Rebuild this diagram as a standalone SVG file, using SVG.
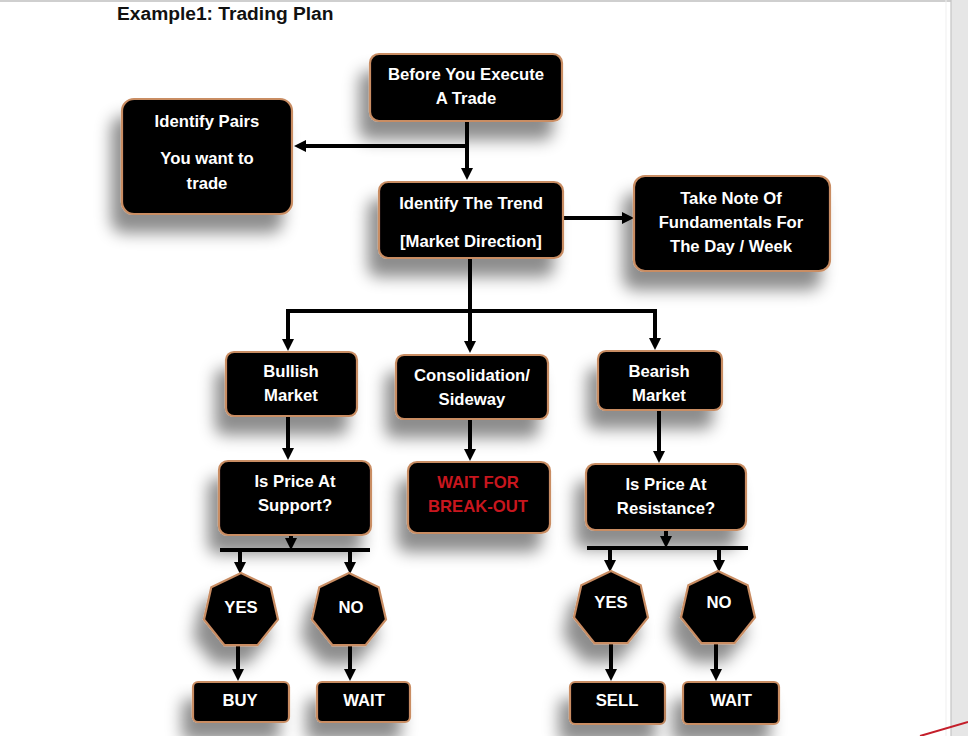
<svg xmlns="http://www.w3.org/2000/svg" width="968" height="736" viewBox="0 0 968 736">
<style>
.bx{fill:#050303;stroke:#c98d63;stroke-width:2.2}
.t{font-family:"Liberation Sans",Arial,sans-serif;font-weight:bold;font-size:16.7px;fill:#fff;text-anchor:middle}
.r{fill:#c8161e}
.c{stroke:#000;stroke-width:4;fill:none}
</style>
<defs>
<filter id="sh" x="-40%" y="-40%" width="180%" height="210%">
<feGaussianBlur in="SourceAlpha" stdDeviation="8"/>
<feOffset dx="-10" dy="18" result="b"/>
<feFlood flood-color="#000" flood-opacity="0.45"/>
<feComposite in2="b" operator="in"/>
<feMerge><feMergeNode/><feMergeNode in="SourceGraphic"/></feMerge>
</filter>
<marker id="a" markerUnits="userSpaceOnUse" markerWidth="13" markerHeight="13" refX="2" refY="6" orient="auto">
<path d="M0,0 L12,6 L0,12 z" fill="#000"/>
</marker>
</defs>
<rect width="968" height="736" fill="#fff"/>
<rect x="0" y="0" width="968" height="2" fill="#cfcfcf"/>
<rect x="951" y="0" width="17" height="736" fill="#e6e6e6"/>
<line x1="951" y1="0" x2="951" y2="736" stroke="#c4c4c4" stroke-width="1.2"/>
<line x1="946" y1="0" x2="946" y2="736" stroke="#efefef" stroke-width="1"/>
<line x1="920" y1="736" x2="968" y2="722" stroke="#c41e2a" stroke-width="2"/>
<text x="117" y="20" font-family="'Liberation Sans',Arial,sans-serif" font-weight="bold" font-size="19.2" fill="#111">Example1: Trading Plan</text>

<g id="connectors">
<line class="c" x1="467" y1="121" x2="467" y2="170" marker-end="url(#a)"/>
<line class="c" x1="467" y1="146" x2="304" y2="146" marker-end="url(#a)"/>
<line class="c" x1="563" y1="218" x2="624" y2="218" marker-end="url(#a)"/>
<line class="c" x1="470" y1="258" x2="470" y2="343" marker-end="url(#a)"/>
<line class="c" x1="286" y1="311" x2="657" y2="311"/>
<line class="c" x1="288" y1="309" x2="288" y2="341" marker-end="url(#a)"/>
<line class="c" x1="655" y1="309" x2="655" y2="340" marker-end="url(#a)"/>
<line class="c" x1="288" y1="416" x2="288" y2="450" marker-end="url(#a)"/>
<line class="c" x1="470" y1="419" x2="470" y2="451" marker-end="url(#a)"/>
<line class="c" x1="659" y1="410" x2="659" y2="453" marker-end="url(#a)"/>
<line class="c" x1="291" y1="535" x2="291" y2="540" marker-end="url(#a)"/>
<line class="c" x1="220" y1="550" x2="370" y2="550"/>
<line class="c" x1="240" y1="550" x2="240" y2="564" marker-end="url(#a)"/>
<line class="c" x1="350" y1="550" x2="350" y2="564" marker-end="url(#a)"/>
<line class="c" x1="238" y1="645" x2="238" y2="671" marker-end="url(#a)"/>
<line class="c" x1="350" y1="645" x2="350" y2="671" marker-end="url(#a)"/>
<line class="c" x1="666" y1="530" x2="666" y2="538" marker-end="url(#a)"/>
<line class="c" x1="587" y1="548" x2="748" y2="548"/>
<line class="c" x1="610" y1="548" x2="610" y2="562" marker-end="url(#a)"/>
<line class="c" x1="719" y1="548" x2="719" y2="562" marker-end="url(#a)"/>
<line class="c" x1="611" y1="642" x2="611" y2="671" marker-end="url(#a)"/>
<line class="c" x1="716" y1="642" x2="716" y2="671" marker-end="url(#a)"/>
</g>

<g id="n-before">
<rect class="bx" x="370" y="54" width="192" height="67" rx="9" filter="url(#sh)"/>
<text class="t" x="466" y="80">Before You Execute</text>
<text class="t" x="466" y="104">A Trade</text>
</g>
<g id="n-pairs">
<rect class="bx" x="122" y="99" width="170" height="115" rx="12" filter="url(#sh)"/>
<text class="t" x="207" y="127">Identify Pairs</text>
<text class="t" x="207" y="164">You want to</text>
<text class="t" x="207" y="189">trade</text>
</g>
<g id="n-trend">
<rect class="bx" x="379" y="182" width="184" height="76" rx="9" filter="url(#sh)"/>
<text class="t" x="471" y="209">Identify The Trend</text>
<text class="t" x="471" y="247">[Market Direction]</text>
</g>
<g id="n-fund">
<rect class="bx" x="634" y="176" width="196" height="95" rx="11" filter="url(#sh)"/>
<text class="t" x="731" y="204">Take Note Of</text>
<text class="t" x="731" y="228">Fundamentals For</text>
<text class="t" x="731" y="252">The Day / Week</text>
</g>
<g id="n-bull">
<rect class="bx" x="226" y="352" width="131" height="64" rx="8" filter="url(#sh)"/>
<text class="t" x="291" y="377">Bullish</text>
<text class="t" x="291" y="401">Market</text>
</g>
<g id="n-cons">
<rect class="bx" x="396" y="355" width="152" height="64" rx="8" filter="url(#sh)"/>
<text class="t" x="472" y="381">Consolidation/</text>
<text class="t" x="472" y="405">Sideway</text>
</g>
<g id="n-bear">
<rect class="bx" x="598" y="351" width="124" height="59" rx="8" filter="url(#sh)"/>
<text class="t" x="659" y="377">Bearish</text>
<text class="t" x="659" y="401">Market</text>
</g>
<g id="n-support">
<rect class="bx" x="219" y="461" width="152" height="74" rx="9" filter="url(#sh)"/>
<text class="t" x="295" y="487">Is Price At</text>
<text class="t" x="295" y="511">Support?</text>
</g>
<g id="n-waitbreak">
<rect class="bx" x="408" y="462" width="142" height="71" rx="9" filter="url(#sh)"/>
<text class="t r" x="478" y="488">WAIT FOR</text>
<text class="t r" x="478" y="512">BREAK-OUT</text>
</g>
<g id="n-resist">
<rect class="bx" x="586" y="464" width="160" height="66" rx="9" filter="url(#sh)"/>
<text class="t" x="666" y="490">Is Price At</text>
<text class="t" x="666" y="514">Resistance?</text>
</g>
<g id="n-yes1">
<polygon class="bx" filter="url(#sh)" points="241,573 270.7,587.3 278,619.5 257.5,645.2 224.5,645.2 204,619.5 211.3,587.3"/>
<text class="t" x="241" y="613">YES</text>
</g>
<g id="n-no1">
<polygon class="bx" filter="url(#sh)" points="349,573 378.7,587.3 386,619.5 365.5,645.2 332.5,645.2 312,619.5 319.3,587.3"/>
<text class="t" x="351" y="613">NO</text>
</g>
<g id="n-yes2">
<polygon class="bx" filter="url(#sh)" points="611,571 640.7,585.3 648,617.5 627.5,643.2 594.5,643.2 574,617.5 581.3,585.3"/>
<text class="t" x="611" y="608">YES</text>
</g>
<g id="n-no2">
<polygon class="bx" filter="url(#sh)" points="718,571 747.7,585.3 755,617.5 734.5,643.2 701.5,643.2 681,617.5 688.3,585.3"/>
<text class="t" x="719" y="608">NO</text>
</g>
<g id="n-buy">
<rect class="bx" x="193" y="682" width="96" height="40" rx="5" filter="url(#sh)"/>
<text class="t" x="240" y="706">BUY</text>
</g>
<g id="n-wait1">
<rect class="bx" x="317" y="682" width="93" height="40" rx="5" filter="url(#sh)"/>
<text class="t" x="364" y="706">WAIT</text>
</g>
<g id="n-sell">
<rect class="bx" x="570" y="682" width="95" height="42" rx="5" filter="url(#sh)"/>
<text class="t" x="617" y="706">SELL</text>
</g>
<g id="n-wait2">
<rect class="bx" x="683" y="682" width="96" height="42" rx="5" filter="url(#sh)"/>
<text class="t" x="731" y="706">WAIT</text>
</g>
</svg>
